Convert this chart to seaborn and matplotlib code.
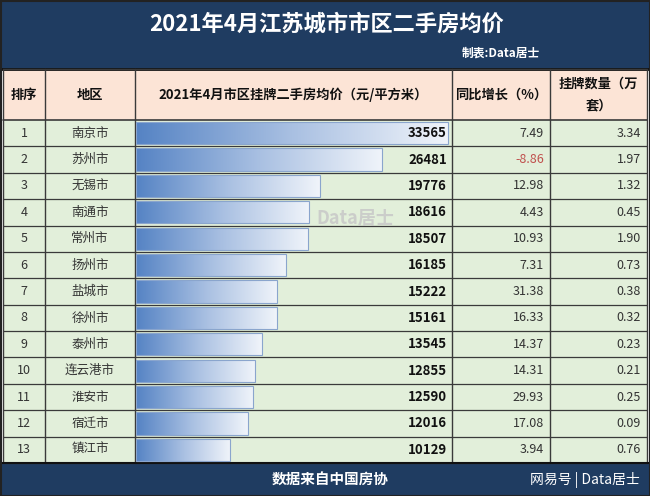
import numpy as np
import pandas as pd
import seaborn as sns
import matplotlib.pyplot as plt
from matplotlib.patches import Rectangle
from matplotlib.colors import LinearSegmentedColormap
import matplotlib.transforms as mtransforms

ranks = list(range(1, 14))
cities = ['南京市', '苏州市', '无锡市', '南通市', '常州市', '扬州市', '盐城市',
          '徐州市', '泰州市', '连云港市', '淮安市', '宿迁市', '镇江市']
prices = [33565, 26481, 19776, 18616, 18507, 16185, 15222,
          15161, 13545, 12855, 12590, 12016, 10129]
yoy = [7.49, -8.86, 12.98, 4.43, 10.93, 7.31, 31.38,
       16.33, 14.37, 14.31, 29.93, 17.08, 3.94]
listings = [3.34, 1.97, 1.32, 0.45, 1.90, 0.73, 0.38,
            0.32, 0.23, 0.21, 0.25, 0.09, 0.76]
headers = ['排序', '地区', '2021年4月市区挂牌二手房均价（元/平方米）',
           '同比增长（%）', '挂牌数量（万\n套）']

title = '2021年4月江苏城市市区二手房均价'
maker = '制表:Data居士'
source = '数据来自中国房协'
brand = '网易号 | Data居士'

df = pd.DataFrame({'rank': ranks, 'city': cities, 'price': prices,
                   'yoy': yoy, 'listings': listings})

sns.set_theme(style='white')
plt.rcParams['font.family'] = ['Noto Sans CJK SC', 'DejaVu Sans']

W, H = 650, 496
navy = '#1f3c61'
pink = '#fce4d6'
green = '#e2efda'
edge = '#3a3a3a'

cols = [3, 45, 135, 452, 550, 647]
head_top, head_bot = 69, 120
row_h = (463 - head_bot) / len(df)

fig = plt.figure(figsize=(W / 100, H / 100), dpi=100)
bg = fig.add_axes([0, 0, 1, 1])
bg.set_xlim(0, W)
bg.set_ylim(H, 0)
bg.axis('off')

# title band and footer
bg.add_patch(Rectangle((0, 0), W, head_top, color=navy, zorder=1))
bg.add_patch(Rectangle((0, 463), W, H - 463, color=navy, zorder=1))
bg.plot([0, W], [head_top, head_top], color='#111111', lw=2, zorder=3)
bg.text(W / 2 + 2, 24, title, color='white', fontsize=16, fontweight='bold',
        ha='center', va='center', zorder=4)
bg.text(540, 53, maker, color='white', fontsize=8.5, fontweight='bold',
        ha='right', va='center', zorder=4)
bg.text(330, 480, source, color='white', fontsize=10.5, fontweight='bold',
        ha='center', va='center', zorder=4)
bg.text(640, 480, brand, color='white', fontsize=10,
        ha='right', va='center', zorder=4)

# header row
bg.add_patch(Rectangle((cols[0], head_top), cols[-1] - cols[0], head_bot - head_top,
                       facecolor=pink, edgecolor='none', zorder=1))
for i, h in enumerate(headers):
    cx = (cols[i] + cols[i + 1]) / 2
    bg.text(cx, (head_top + head_bot) / 2, h, fontsize=9.5, fontweight='bold',
            color='#111111', ha='center', va='center', multialignment='center',
            linespacing=1.7, zorder=4)

# body rows
bg.add_patch(Rectangle((cols[0], head_bot), cols[-1] - cols[0], 463 - head_bot,
                       facecolor=green, edgecolor='none', zorder=1))
for i, row in df.iterrows():
    yc = head_bot + (i + 0.5) * row_h
    bg.text((cols[0] + cols[1]) / 2, yc, str(row['rank']), fontsize=9,
            color='#333333', ha='center', va='center', zorder=4)
    bg.text((cols[1] + cols[2]) / 2, yc, row['city'], fontsize=9,
            color='#333333', ha='center', va='center', zorder=4)
    bg.text(cols[4] - 6, yc, f"{row['yoy']:.2f}", fontsize=9,
            color='#c0504d' if row['yoy'] < 0 else '#333333',
            ha='right', va='center', zorder=4)
    bg.text(cols[5] - 6, yc, f"{row['listings']:.2f}", fontsize=9,
            color='#333333', ha='right', va='center', zorder=4)

# grid lines
for x in cols:
    bg.plot([x, x], [head_top, 463], color=edge, lw=1, zorder=3)
for k in range(len(df) + 1):
    y = head_bot + k * row_h
    bg.plot([cols[0], cols[-1]], [y, y], color=edge, lw=1.2 if k == 0 else 0.9, zorder=3)
bg.plot([0, W], [463, 463], color='#111111', lw=1.5, zorder=3)
bg.plot([cols[0], cols[-1]], [head_top, head_top], color=edge, lw=1, zorder=3)
bg.add_patch(Rectangle((0.5, 0.5), W - 1, H - 1, fill=False, edgecolor='#222222',
                       lw=1.5, zorder=5))

# price bars
left = (cols[2] + 1) / W
width = (cols[3] - cols[2] - 1) / W
ax = fig.add_axes([left, 1 - 463 / H, width, (463 - head_bot) / H])
ax.patch.set_alpha(0)
sns.barplot(data=df, x='price', y='city', orient='h', width=0.84,
            color='#5b86c5', ax=ax, zorder=2)
xmax = max(prices) * (cols[3] - cols[2] - 1) / (448 - cols[2] - 1)
cmap = LinearSegmentedColormap.from_list('bar', ['#5583c4', '#a9c0e2', '#f0f4fa'])
grad = np.linspace(0, 1, 256).reshape(1, -1)
for p in ax.patches:
    x0, y0 = p.get_x(), p.get_y()
    w, h = p.get_width(), p.get_height()
    im = ax.imshow(grad, cmap=cmap, aspect='auto', extent=[x0, x0 + w, y0 + h, y0],
                   zorder=2.5)
    im.set_clip_path(p)
    p.set_edgecolor('#8aa5cd')
    p.set_linewidth(0.8)
    p.set_facecolor('none')
    p.set_zorder(3)
ax.set_xlim(0, xmax)
ax.set_ylim(len(df) - 0.5, -0.5)
ax.axis('off')
trans = mtransforms.blended_transform_factory(ax.transAxes, ax.transData)
for i, v in enumerate(prices):
    ax.text(1 - 5 / (cols[3] - cols[2]), i, str(v), transform=trans, fontsize=9.5,
            fontweight='bold', color='#111111', ha='right', va='center', zorder=5)

# watermark
bg.text(355, 218, 'Data居士', fontsize=13, fontweight='bold', color='#c8c8c8',
        alpha=0.85, ha='center', va='center', zorder=4)

fig.savefig('out.png', dpi=100, facecolor='white')
